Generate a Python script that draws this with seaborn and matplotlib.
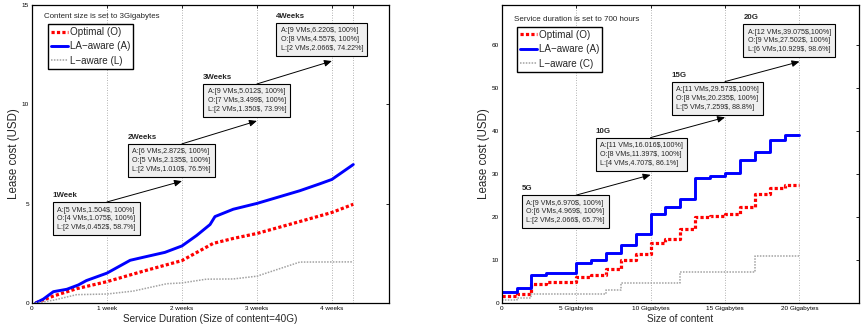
import matplotlib
matplotlib.use("Agg")
import matplotlib.pyplot as plt
import pandas as pd
import seaborn as sns

# ---------------- Left panel: cost vs. service duration (content = 40G) ----------------
hours_A = [8, 25, 48, 78, 104, 122, 168, 220, 249, 298, 336, 369, 399, 410, 451, 504, 600, 645, 672, 720]
cost_A_dur = [0, 0.19, 0.57, 0.69, 0.91, 1.13, 1.504, 2.15, 2.3, 2.55, 2.872, 3.4, 3.95, 4.35, 4.72,
              5.012, 5.65, 6.0, 6.22, 6.97]
hours_O = [8, 48, 100, 168, 249, 336, 406, 451, 504, 600, 672, 720]
cost_O_dur = [0, 0.35, 0.72, 1.075, 1.6, 2.135, 3.0, 3.25, 3.499, 4.1, 4.557, 4.97]
hours_L = [8, 48, 100, 168, 227, 302, 336, 391, 451, 504, 600, 672, 720]
cost_L_dur = [0, 0.14, 0.42, 0.452, 0.6, 0.97, 1.010, 1.2, 1.21, 1.350, 2.06, 2.066, 2.07]

week_ticks = [0, 168, 336, 504, 672, 720]
week_labels = ["0", "1 week", "2 weeks", "3 weeks", "4 weeks", ""]
week_titles = ["1Week", "2Weeks", "3Weeks", "4Weeks"]
week_notes = [
    ["A:[5 VMs,1.504$, 100%]", "O:[4 VMs,1.075$, 100%]", "L:[2 VMs,0.452$, 58.7%]"],
    ["A:[6 VMs,2.872$, 100%]", "O:[5 VMs,2.135$, 100%]", "L:[2 VMs,1.010$, 76.5%]"],
    ["A:[9 VMs,5.012$, 100%]", "O:[7 VMs,3.499$, 100%]", "L:[2 VMs,1.350$, 73.9%]"],
    ["A:[9 VMs,6.220$, 100%]", "O:[8 VMs,4.557$, 100%]", "L:[2 VMs,2.066$, 74.22%]"],
]
week_marks = [168, 336, 504, 672]

# ---------------- Right panel: cost vs. content size (duration = 700 h) ----------------
size_gb = list(range(0, 21))
cost_A_size = [2.56, 2.56, 3.5, 6.44, 6.9, 6.970, 9.4, 10.1, 11.6, 13.4, 16.016, 20.6, 22.3, 24.1,
               29.1, 29.573, 30.3, 33.2, 35.0, 37.8, 39.075]
cost_O_size = [1.63, 1.63, 2.2, 4.5, 4.9, 4.969, 6.05, 6.45, 8.0, 10.0, 11.397, 13.95, 14.8, 17.2,
               19.9, 20.235, 20.6, 22.2, 25.3, 26.8, 27.502]
cost_L_size = [0.8, 0.8, 1.2, 2.066, 2.066, 2.066, 2.066, 2.066, 3.1, 4.707, 4.707, 4.707, 4.707,
               7.259, 7.259, 7.259, 7.259, 7.259, 10.929, 10.929, 10.929]

size_ticks = [0, 5, 10, 15, 20]
size_labels = ["0", "5 Gigabytes", "10 Gigabytes", "15 Gigabytes", "20 Gigabytes"]
size_titles = ["5G", "10G", "15G", "20G"]
size_notes = [
    ["A:[9 VMs,6.970$, 100%]", "O:[6 VMs,4.969$, 100%]", "L:[2 VMs,2.066$, 65.7%]"],
    ["A:[11 VMs,16.016$,100%]", "O:[8 VMs,11.397$, 100%]", "L:[4 VMs,4.707$, 86.1%]"],
    ["A:[11 VMs,29.573$,100%]", "O:[8 VMs,20.235$, 100%]", "L:[5 VMs,7.259$, 88.8%]"],
    ["A:[12 VMs,39.075$,100%]", "O:[9 VMs,27.502$, 100%]", "L:[6 VMs,10.929$, 98.6%]"],
]
size_marks = [5, 10, 15, 20]

sns.set_style("white")
plt.rcParams["font.family"] = ["Liberation Sans", "DejaVu Sans"]
plt.rcParams["axes.unicode_minus"] = True

RED = "#ff0000"
BLUE = "#0000ff"
GRAY = "#a2a2a2"
red_kw = dict(color=RED, lw=2.3, linestyle=(0, (1.0, 0.7)), dash_capstyle="butt")
blue_kw = dict(color=BLUE, lw=2.1, linestyle="-")
gray_kw = dict(color=GRAY, lw=1.1, linestyle=(0, (1.0, 0.9)), dash_capstyle="butt")

fig = plt.figure(figsize=(8.65, 3.29), dpi=100)
axL = fig.add_axes([32 / 865, 1 - 303 / 329, 357 / 865, 298 / 329])
axR = fig.add_axes([501.7 / 865, 1 - 303 / 329, 357.3 / 865, 298 / 329])


def draw_series(ax, x, y, label, kw, steps=False):
    df = pd.DataFrame({"x": x, "y": y})
    extra = {"drawstyle": "steps-pre"} if steps else {}
    sns.lineplot(data=df, x="x", y="y", ax=ax, label=label, sort=False,
                 estimator=None, legend=False, **kw, **extra)


draw_series(axL, hours_O, cost_O_dur, "Optimal (O)", red_kw)
draw_series(axL, hours_A, cost_A_dur, "LA\u2212aware (A)", blue_kw)
draw_series(axL, hours_L, cost_L_dur, "L\u2212aware (L)", gray_kw)

draw_series(axR, size_gb, cost_O_size, "Optimal (O)", red_kw, steps=True)
draw_series(axR, size_gb, cost_A_size, "LA\u2212aware (A)", blue_kw, steps=True)
draw_series(axR, size_gb, cost_L_size, "L\u2212aware (C)", gray_kw, steps=True)


def style_axes(ax, xticks, xlabels, xlim, ylim, yticks, xlabel):
    ax.set_xlim(*xlim)
    ax.set_ylim(*ylim)
    ax.set_xticks(xticks)
    ax.set_xticklabels(xlabels)
    ax.set_yticks(yticks)
    ax.set_yticklabels([str(v) for v in yticks])
    ax.tick_params(direction="in", top=True, right=True, length=2.5, width=0.6,
                   labelsize=4.6, pad=2.0, colors="black")
    for s in ax.spines.values():
        s.set_color("black")
        s.set_linewidth(0.9)
    for xv in xticks[1:]:
        ax.axvline(xv, color="#9a9a9a", lw=0.6, linestyle=(0, (1, 2)), zorder=0)
    ax.set_xlabel(xlabel, fontsize=7.2, labelpad=2.5)
    ax.set_ylabel("Lease cost (USD)", fontsize=8.3, labelpad=1.5)
    ax.set_facecolor("white")


style_axes(axL, week_ticks, week_labels, (0, 800), (0, 15), [0, 5, 10, 15],
           "Service Duration (Size of content=40G)")
style_axes(axR, size_ticks, size_labels, (0, 24), (0, 69.2), [0, 10, 20, 30, 40, 50, 60],
           "Size of content")

leg_kw = dict(loc="upper left", borderaxespad=0, fontsize=7.1, handlelength=1.7,
              handletextpad=0.2, labelspacing=0.45, borderpad=0.3, fancybox=False,
              framealpha=1, edgecolor="black")
legL = axL.legend(bbox_to_anchor=(0.045, 0.936), **leg_kw)
legL.get_frame().set_linewidth(1.0)
legR = axR.legend(bbox_to_anchor=(0.043, 0.927), **leg_kw)
legR.get_frame().set_linewidth(1.0)

axL.text(0.0336, 0.963, "Content size is set to 3Gigabytes", transform=axL.transAxes,
         fontsize=5.7, va="center", ha="left")
axR.text(0.0344, 0.953, "Service duration is set to 700 hours", transform=axR.transAxes,
         fontsize=5.8, va="center", ha="left")

box_kw = dict(boxstyle="square,pad=0.62", fc="#efefef", ec="black", lw=0.8)


def add_notes(ax, titles, notes, text_pos, title_pos, marks, arrows):
    for t, n, (tx, ty), (hx, hy) in zip(titles, notes, text_pos, title_pos):
        ax.text(tx, ty, "\n".join(n), transform=ax.transAxes, fontsize=5.1,
                va="top", ha="left", linespacing=1.35, bbox=box_kw, zorder=5)
        ax.text(hx, hy, t, transform=ax.transAxes, fontsize=5.7, fontweight="bold",
                va="baseline", ha="left", zorder=5)
    for (x0, x1), (y0, y1) in zip(zip(marks[:-1], marks[1:]), arrows):
        ax.annotate("", xy=(x1, y1), xytext=(x0, y0),
                    xycoords=("data", "axes fraction"), textcoords=("data", "axes fraction"),
                    arrowprops=dict(arrowstyle="-|>,head_length=0.5,head_width=0.22",
                                    color="black", lw=0.7, shrinkA=0, shrinkB=0,
                                    mutation_scale=9), zorder=6)


add_notes(axL, week_titles, week_notes,
          [(0.0714, 0.3238), (0.2815, 0.5185), (0.4916, 0.7198), (0.6961, 0.9245)],
          [(0.056, 0.3547), (0.268, 0.5493), (0.4782, 0.7507), (0.6835, 0.9554)],
          week_marks,
          [(0.339, 0.409), (0.534, 0.611), (0.735, 0.812)])
add_notes(axR, size_titles, size_notes,
          [(0.0686, 0.3473), (0.2757, 0.5396), (0.4884, 0.7275), (0.6888, 0.9211)],
          [(0.056, 0.378), (0.2631, 0.5705), (0.4758, 0.7584), (0.6762, 0.952)],
          size_marks,
          [(0.362, 0.430), (0.555, 0.623), (0.743, 0.810)])

fig.savefig("out.png", dpi=100, facecolor="white")
